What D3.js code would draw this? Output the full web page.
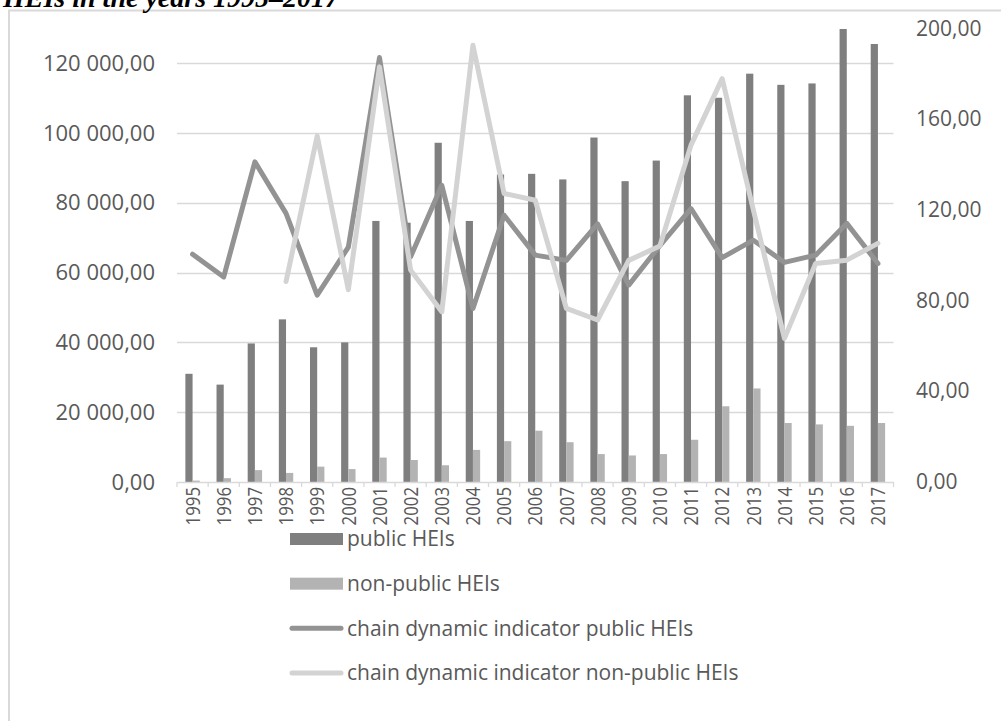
<!DOCTYPE html>
<html>
<head>
<meta charset="utf-8">
<script src="https://cdn.jsdelivr.net/npm/d3@7"></script>
<style>
  html, body { margin: 0; padding: 0; background: #ffffff; }
  svg { display: block; }
</style>
</head>
<body>
<svg id="chart" width="1001" height="721"></svg>
<script>
// Students admitted to HEIs, 1995–2017, with chain dynamic indicators
const years = ["1995","1996","1997","1998","1999","2000","2001","2002","2003","2004","2005","2006",
               "2007","2008","2009","2010","2011","2012","2013","2014","2015","2016","2017"];

const publicHEIs = [31000, 27900, 39700, 46600, 38600, 40000, 74800, 74300, 97200, 74800, 88100, 88300,
                    86700, 98700, 86200, 92100, 110800, 110100, 117000, 113800, 114200, 129800, 125500];

const nonPublicHEIs = [400, 1100, 3400, 2600, 4400, 3700, 7000, 6300, 4800, 9200, 11700, 14700,
                       11400, 8000, 7600, 8000, 12100, 21700, 26800, 16900, 16500, 16100, 16900];

const chainPublic = [100.4, 90.4, 141.1, 118.4, 82.4, 103.5, 187.1, 99.3, 130.8, 76.5, 117.6, 100.0,
                     97.7, 113.8, 86.8, 104.2, 120.5, 98.9, 106.6, 96.8, 100.0, 114.0, 96.3];

const chainNonPublic = [null, null, null, 88.4, 152.5, 84.8, 183.0, 93.4, 75.0, 192.5, 127.2, 124.2,
                        76.5, 71.4, 97.7, 104.0, 148.5, 177.8, 120.0, 63.3, 96.3, 97.8, 105.2];

const leftTicks = [0, 20000, 40000, 60000, 80000, 100000, 120000];
const rightTicks = [0, 40, 80, 120, 160, 200];

const legendItems = [
  { label: "public HEIs", kind: "bar", color: "#7f7f7f" },
  { label: "non-public HEIs", kind: "bar", color: "#b3b3b3" },
  { label: "chain dynamic indicator public HEIs", kind: "line", color: "#939393" },
  { label: "chain dynamic indicator non-public HEIs", kind: "line", color: "#d3d3d3" }
];

const svg = d3.select("#chart");
const font = "'Open Sans', 'DejaVu Sans', sans-serif";
const textColor = "#595959";
const gridColor = "#d9d9d9";

const plot = { left: 177, right: 893.5, top: 28.3, bottom: 482 };

// Number format: space for thousands, comma for decimals
const plLocale = d3.formatLocale({ decimal: ",", thousands: " ", grouping: [3], currency: ["", ""] });
const fmt = plLocale.format(",.2f");

const x = d3.scaleBand().domain(years).range([plot.left, plot.right]).paddingInner(0).paddingOuter(0);
const yLeft = d3.scaleLinear().domain([0, 130000]).range([plot.bottom, plot.top]);
const yRight = d3.scaleLinear().domain([0, 200]).range([plot.bottom, plot.top]);

// Outer frame
svg.append("rect")
  .attr("x", 9).attr("y", 10.5)
  .attr("width", 1100).attr("height", 800)
  .attr("fill", "none").attr("stroke", gridColor).attr("stroke-width", 2);

// Caption line above the frame
svg.append("text")
  .attr("x", 3).attr("y", 7)
  .attr("font-family", "'Liberation Serif', 'Times New Roman', serif")
  .attr("font-style", "italic").attr("font-weight", "bold")
  .attr("font-size", 28).attr("fill", "#000")
  .text("HEIs in the years 1995–2017");

// Horizontal gridlines
svg.append("g")
  .selectAll("line")
  .data(leftTicks.filter(d => d > 0))
  .join("line")
  .attr("x1", plot.left).attr("x2", plot.right)
  .attr("y1", d => Math.round(yLeft(d)) + 0.5).attr("y2", d => Math.round(yLeft(d)) + 0.5)
  .attr("stroke", gridColor).attr("stroke-width", 1.3);

// Left axis
const leftAxis = d3.axisLeft(yLeft).tickValues(leftTicks).tickFormat(fmt).tickSize(0).tickPadding(22);
const gL = svg.append("g").attr("transform", `translate(${plot.left},0)`).call(leftAxis);
gL.select(".domain").remove();
gL.selectAll("text")
  .attr("font-family", font).attr("font-size", 22).attr("fill", textColor);

// Right axis
const rightAxis = d3.axisRight(yRight).tickValues(rightTicks).tickFormat(fmt).tickSize(0).tickPadding(22.5);
const gR = svg.append("g").attr("transform", `translate(${plot.right},0)`).call(rightAxis);
gR.select(".domain").remove();
gR.selectAll("text")
  .attr("font-family", font).attr("font-size", 21).attr("fill", textColor);

// Bars
const barW = 7.2;
const barsG = svg.append("g");
barsG.selectAll("rect.pub")
  .data(years)
  .join("rect")
  .attr("class", "pub")
  .attr("x", (d) => x(d) + x.bandwidth() / 2 - barW)
  .attr("width", barW)
  .attr("y", (d, i) => yLeft(publicHEIs[i]))
  .attr("height", (d, i) => yLeft(0) - yLeft(publicHEIs[i]))
  .attr("fill", "#7f7f7f");
barsG.selectAll("rect.npub")
  .data(years)
  .join("rect")
  .attr("class", "npub")
  .attr("x", (d) => x(d) + x.bandwidth() / 2)
  .attr("width", barW)
  .attr("y", (d, i) => yLeft(nonPublicHEIs[i]))
  .attr("height", (d, i) => yLeft(0) - yLeft(nonPublicHEIs[i]))
  .attr("fill", "#b3b3b3");

// X axis line with category separators; year labels are vertical and slightly condensed
const xAxis = d3.axisBottom(x).tickSize(0).tickPadding(0);
const gX = svg.append("g").attr("transform", `translate(0,${plot.bottom})`).call(xAxis);
gX.select(".domain").attr("stroke", gridColor).attr("stroke-width", 1.3);
const squeeze = 0.84;
gX.selectAll(".tick text")
  .attr("font-family", font).attr("font-size", 20).attr("fill", textColor)
  .attr("text-anchor", "end")
  .attr("transform", `rotate(-90) scale(${squeeze},1)`)
  .attr("x", -5 / squeeze).attr("y", 0).attr("dy", "0.36em");
const seps = x.domain().map(d => x(d)).concat([plot.right]);
gX.append("g").selectAll("line")
  .data(seps)
  .join("line")
  .attr("x1", d => d).attr("x2", d => d)
  .attr("y1", 0).attr("y2", 5)
  .attr("stroke", gridColor).attr("stroke-width", 1.3);

// Chain dynamic indicator lines
const lineGen = d3.line()
  .defined(d => d.v != null)
  .x(d => x(d.year) + x.bandwidth() / 2)
  .y(d => yRight(d.v));

svg.append("path")
  .datum(years.map((y, i) => ({ year: y, v: chainPublic[i] })))
  .attr("d", lineGen)
  .attr("fill", "none").attr("stroke", "#939393").attr("stroke-width", 5)
  .attr("stroke-linejoin", "round").attr("stroke-linecap", "round");

svg.append("path")
  .datum(years.map((y, i) => ({ year: y, v: chainNonPublic[i] })))
  .attr("d", lineGen)
  .attr("fill", "none").attr("stroke", "#d3d3d3").attr("stroke-width", 5)
  .attr("stroke-linejoin", "round").attr("stroke-linecap", "round");

// Legend
const legend = svg.append("g");
const legendY = d3.scalePoint().domain(legendItems.map(d => d.label)).range([539, 673]);
legendItems.forEach(item => {
  const cy = legendY(item.label);
  if (item.kind === "bar") {
    legend.append("rect")
      .attr("x", 290).attr("y", cy - 6).attr("width", 53).attr("height", 12)
      .attr("fill", item.color);
  } else {
    legend.append("line")
      .attr("x1", 292).attr("x2", 341).attr("y1", cy).attr("y2", cy)
      .attr("stroke", item.color).attr("stroke-width", 5).attr("stroke-linecap", "round");
  }
  legend.append("text")
    .attr("x", 347).attr("y", cy).attr("dy", "0.35em")
    .attr("font-family", font).attr("font-size", 21).attr("fill", textColor)
    .text(item.label);
});
</script>
</body>
</html>
